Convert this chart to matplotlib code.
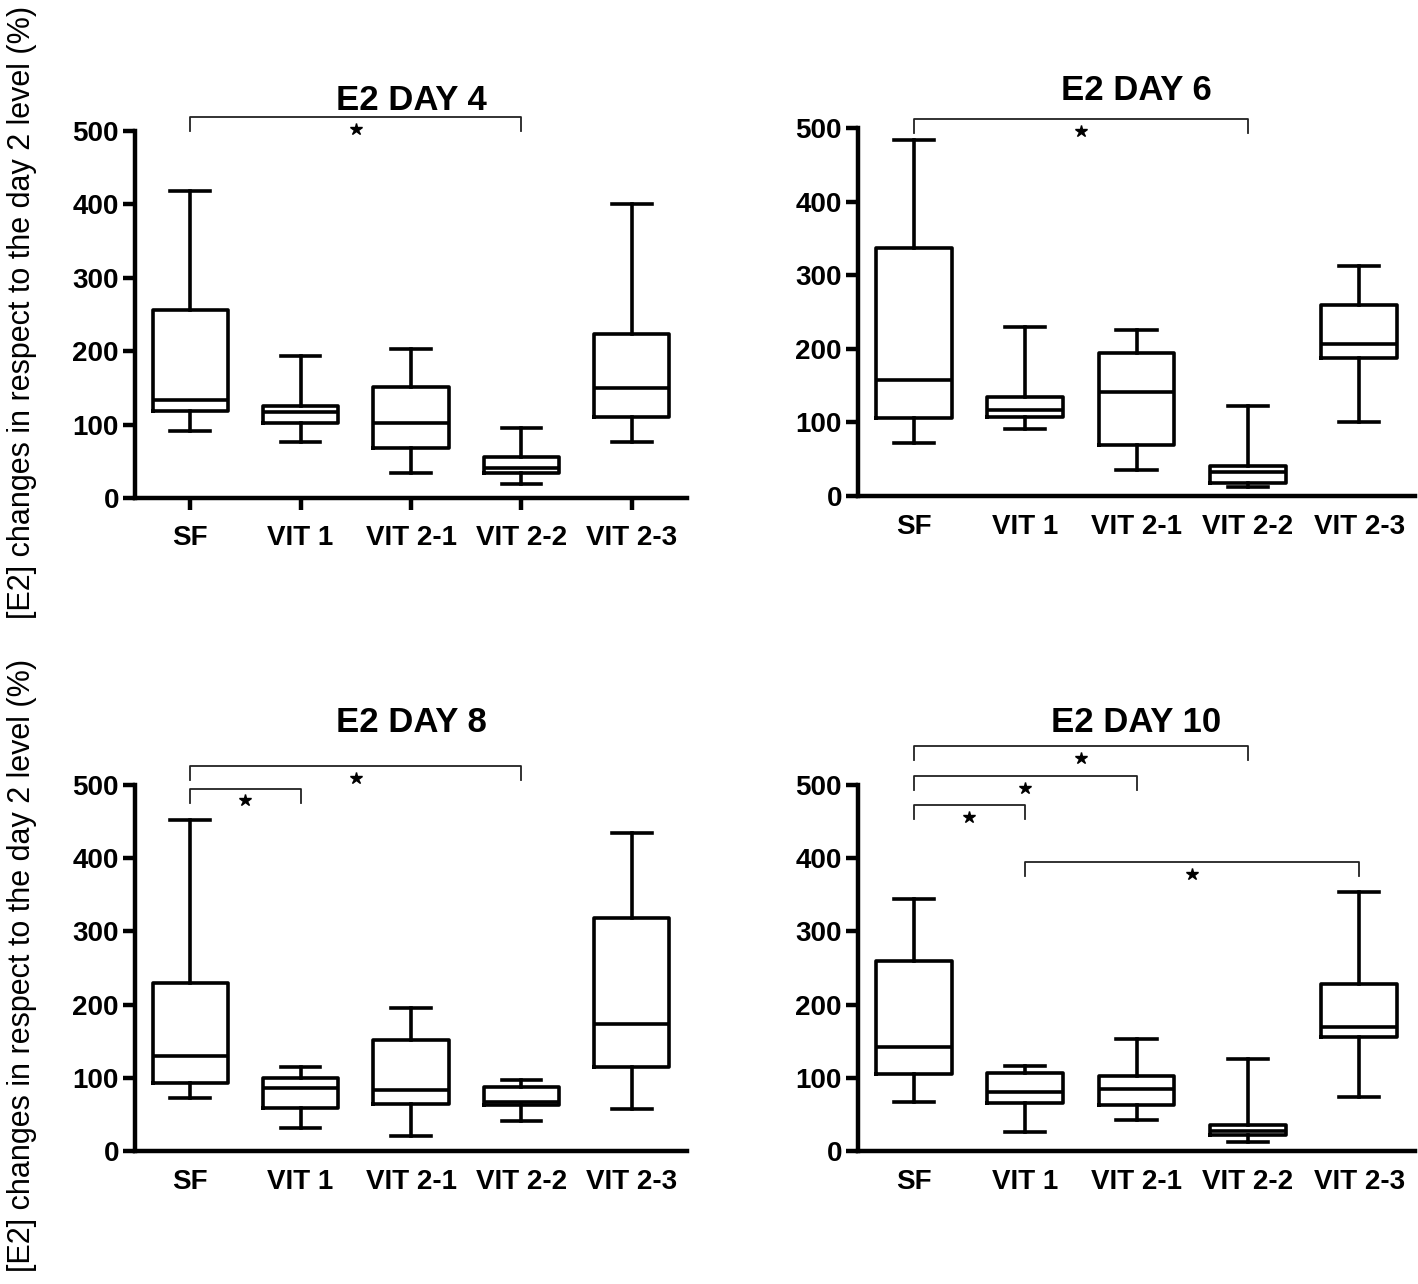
import matplotlib
matplotlib.use("Agg")
import matplotlib.pyplot as plt


# Data

GROUPS = ["SF", "VIT 1", "VIT 2-1", "VIT 2-2", "VIT 2-3"]
Y_TICKS = [0, 100, 200, 300, 400, 500]
Y_LABEL = "[E2] changes in respect to the day 2 level (%)"

# one row per group: whisker low, Q1, median, Q3, whisker high
DAY4 = [
    [91, 119, 133, 256, 419],
    [76, 102, 117, 125, 194],
    [34, 68, 102, 151, 203],
    [19, 34, 41, 56, 95],
    [76, 110, 150, 223, 400],
]
DAY6 = [
    [72, 106, 157, 337, 484],
    [91, 108, 117, 134, 229],
    [35, 69, 141, 194, 225],
    [12, 18, 33, 41, 122],
    [100, 188, 207, 259, 312],
]
DAY8 = [
    [72, 93, 130, 229, 452],
    [31, 59, 86, 100, 115],
    [20, 64, 83, 152, 196],
    [41, 63, 67, 88, 97],
    [58, 115, 173, 318, 434],
]
DAY10 = [
    [67, 105, 142, 260, 344],
    [26, 65, 80, 107, 116],
    [42, 63, 85, 102, 153],
    [12, 22, 27, 36, 126],
    [74, 156, 169, 228, 354],
]

# significance brackets: (first group, second group, bracket height)
DAY4_SIG = [(0, 3, 519)]
DAY6_SIG = [(0, 3, 512)]
DAY8_SIG = [(0, 3, 526), (0, 1, 495)]
DAY10_SIG = [(0, 3, 553), (0, 2, 512), (0, 1, 473), (1, 4, 395)]


# Style

FONT = "Liberation Sans"
LW_BOX = 2.6
LW_SPINE = 3.2
LW_BRACKET = 1.3
LEG_DROP = 19
TICK_SIZE = 20


# Functions

def make_stats(rows):
    """Turns the rows of five numbers into the dicts that bxp wants"""
    stats = []
    for label, row in zip(GROUPS, rows):
        stats.append({
            "label": label,
            "whislo": row[0],
            "q1": row[1],
            "med": row[2],
            "q3": row[3],
            "whishi": row[4],
        })
    return stats


def draw_panel(ax, rows, sig, title, title_pad, show_xticks):
    """Draws one box plot panel with its brackets"""
    line = {"color": "black", "linewidth": LW_BOX}
    ax.bxp(make_stats(rows), positions=range(len(GROUPS)), widths=0.68,
           capwidths=0.36, showfliers=False, boxprops=line,
           whiskerprops=line, capprops=line, medianprops=line)

    ax.set_xlim(-0.5, len(GROUPS) - 0.5)
    ax.set_ylim(0, 500)
    ax.set_yticks(Y_TICKS)
    ax.set_xticks(range(len(GROUPS)))
    ax.set_xticklabels(GROUPS)

    for side in ["top", "right"]:
        ax.spines[side].set_visible(False)
    for side in ["left", "bottom"]:
        ax.spines[side].set_linewidth(LW_SPINE)

    ax.tick_params(axis="y", length=8.6, width=LW_SPINE, pad=3,
                   labelsize=TICK_SIZE)
    if show_xticks:
        ax.tick_params(axis="x", length=8.6, width=LW_SPINE, pad=11,
                       labelsize=TICK_SIZE)
    else:
        ax.tick_params(axis="x", length=0, pad=13, labelsize=TICK_SIZE)
    for lab in ax.get_xticklabels() + ax.get_yticklabels():
        lab.set_fontweight("bold")
        lab.set_fontfamily(FONT)

    ax.set_title(title, fontsize=25, fontweight="bold", family=FONT,
                 pad=title_pad)

    for i, j, h in sig:
        ax.plot([i, i, j, j], [h - LEG_DROP, h, h, h - LEG_DROP],
                color="#222222", linewidth=LW_BRACKET, clip_on=False)
        ax.plot([(i + j) / 2], [h - 16], marker="*", markersize=9,
                color="black", linestyle="none", clip_on=False)


# Figure

fig = plt.figure(figsize=(14.18, 12.84), dpi=100)

ax1 = fig.add_axes([0.0952, 0.6121, 0.3893, 0.2858])
ax2 = fig.add_axes([0.6051, 0.6137, 0.3928, 0.2866])
ax3 = fig.add_axes([0.0952, 0.1036, 0.3893, 0.2850])
ax4 = fig.add_axes([0.6051, 0.1036, 0.3928, 0.2850])

draw_panel(ax1, DAY4, DAY4_SIG, "E2 DAY 4", 15, True)
draw_panel(ax2, DAY6, DAY6_SIG, "E2 DAY 6", 20, False)
draw_panel(ax3, DAY8, DAY8_SIG, "E2 DAY 8", 38, False)
draw_panel(ax4, DAY10, DAY10_SIG, "E2 DAY 10", 38, False)

fig.text(22 / 1418, 1 - 312 / 1284, Y_LABEL, rotation=90, ha="center",
         va="center", fontsize=22, family=FONT)
fig.text(22 / 1418, 1 - 965 / 1284, Y_LABEL, rotation=90, ha="center",
         va="center", fontsize=22, family=FONT)

plt.savefig("out.png", dpi=100)
